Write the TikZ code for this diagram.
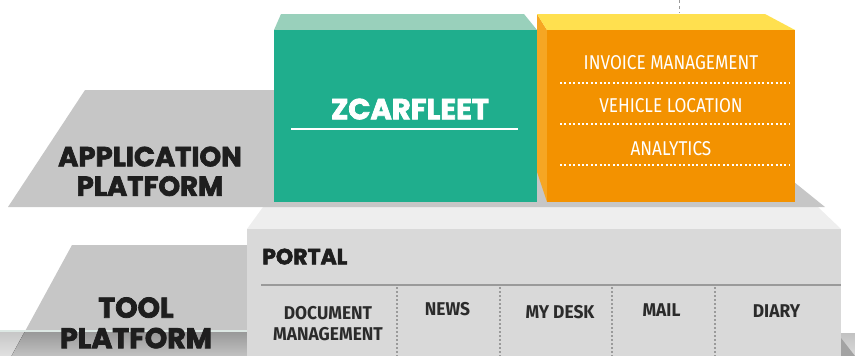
\documentclass[tikz,border=0pt]{standalone}
\usepackage{fontspec}
\newfontfamily\headfont{Poppins}[FakeBold=2.6]
\newfontfamily\condfont{Fira Sans}[FakeStretch=0.86]
\newfontfamily\condmedfont{Fira Sans}[FakeStretch=0.94]
\definecolor{slabgray}{HTML}{C6C6C6}
\definecolor{toolfront}{HTML}{D9D9D9}
\definecolor{tooltop}{HTML}{EEEEEE}
\definecolor{sepgray}{HTML}{9A9A9A}
\definecolor{greenfront}{HTML}{1FAE8D}
\definecolor{greentop}{HTML}{99D0BB}
\definecolor{orfront}{HTML}{F39200}
\definecolor{orside}{HTML}{F6A623}
\definecolor{ortop}{HTML}{FFE04F}
\definecolor{headtxt}{HTML}{1E1E1E}
\definecolor{coltxt}{HTML}{2B2B2B}
\definecolor{bandline}{HTML}{DDE8E4}
\begin{document}
\begin{tikzpicture}[x=1pt,y=-1pt,
  headlbl/.style={font=\headfont\bfseries\fontsize{27.5}{27.5}\selectfont, text=headtxt, inner sep=0pt, text depth=0pt},
  toollbl/.style={font=\headfont\bfseries\fontsize{28.5}{28.5}\selectfont, text=headtxt, inner sep=0pt, text depth=0pt},
  appname/.style={font=\headfont\bfseries\fontsize{29}{29}\selectfont, text=white, inner sep=0pt, text depth=0pt},
  modlbl/.style={font=\condfont\fontsize{20}{20}\selectfont, text=white, inner sep=0pt, text depth=0pt},
  collbl/.style={font=\condmedfont\bfseries\fontsize{18.5}{18.5}\selectfont, text=coltxt, inner sep=0pt, text depth=0pt},
  portallbl/.style={font=\headfont\bfseries\fontsize{22}{22}\selectfont, text=headtxt, inner sep=0pt, text depth=0pt},
  whitedots/.style={white, line width=2pt, dash pattern=on 2pt off 2.4pt},
  graydots/.style={sepgray, line width=1.3pt, dash pattern=on 2pt off 2pt},
]
\useasboundingbox (0,0) rectangle (855,356);
% ---- bottom band (next layer, cut off)
\fill[top color=black!22, bottom color=black!12] (0,332) rectangle (247,356);
\fill[top color=black!24, bottom color=black!14] (841,333) rectangle (855,356);
\fill[black!36] (841,338) -- (855,356) -- (841,356) -- cycle;
% ---- tool platform slab
\fill[slabgray] (72,245) -- (247,245) -- (247,330) -- (25.7,330) -- cycle;
\fill[top color=black!40, bottom color=black!24] (24.6,332) -- (247,332) -- (247,356) -- (11.5,356) -- cycle;
\fill[bandline] (0,330) rectangle (247,332);
% ---- tool box
\fill[tooltop] (247,229) -- (263,207) -- (818,207) -- (841,229) -- cycle;
\fill[toolfront] (247,229) rectangle (841,356);
\draw[sepgray, line width=2pt] (261,285) -- (841,285);
\foreach \xx in {397,500,612,715} {\draw[graydots] (\xx,287) -- (\xx,356);}
% ---- application slab
\fill[slabgray] (8,207) -- (85,90) -- (680,90) -- (825,207) -- cycle;
% ---- green box
\fill[greentop] (274,30) -- (281,14) -- (524,14) -- (537,30) -- cycle;
\fill[greenfront] (274,30) rectangle (537,202);
% ---- orange box
\fill[orside] (537,14) -- (547,30) -- (547,202) -- (537,172) -- cycle;
\fill[ortop] (537,14) -- (765,14) -- (795,30) -- (547,30) -- cycle;
\fill[orfront] (547,30) rectangle (795,202);
% ---- dashed line at top
\coordinate (dtop) at (679,0);
\coordinate (dbot) at (679,13);
\draw[black!40, line width=1pt, dash pattern=on 3pt off 3pt] (dtop) -- (dbot);
% ---- texts
\node[headlbl] (app1) at (150,156.5) {APPLICATION};
\node[headlbl] (app2) at (150,186) {PLATFORM};
\node[toollbl] (tool1) at (136,307.5) {TOOL};
\node[toollbl] (tool2) at (136,338) {PLATFORM};
\node[appname] (zcar) at (410,109) {ZCARFLEET};
\coordinate (ulA) at (291,129);
\coordinate (ulB) at (518,129);
\draw[white, line width=2.2pt] (ulA) -- (ulB);
\node[modlbl] (m1) at (671,62) {INVOICE MANAGEMENT};
\node[modlbl] (m2) at (671,105.5) {VEHICLE LOCATION};
\node[modlbl] (m3) at (671,148) {ANALYTICS};
\foreach \yy in {83,124,165} {\draw[whitedots] (560,\yy) -- (790,\yy);}
\node[portallbl, anchor=west] (portal) at (262,256.5) {PORTAL};
\node[collbl] (c1a) at (328,313) {DOCUMENT};
\node[collbl] (c1b) at (328,334) {MANAGEMENT};
\node[collbl] (c2) at (447.5,308.5) {NEWS};
\node[collbl] (c3) at (560,311.5) {MY DESK};
\node[collbl] (c4) at (661.5,310) {MAIL};
\node[collbl] (c5) at (776.5,311.5) {DIARY};
\end{tikzpicture}
\end{document}
